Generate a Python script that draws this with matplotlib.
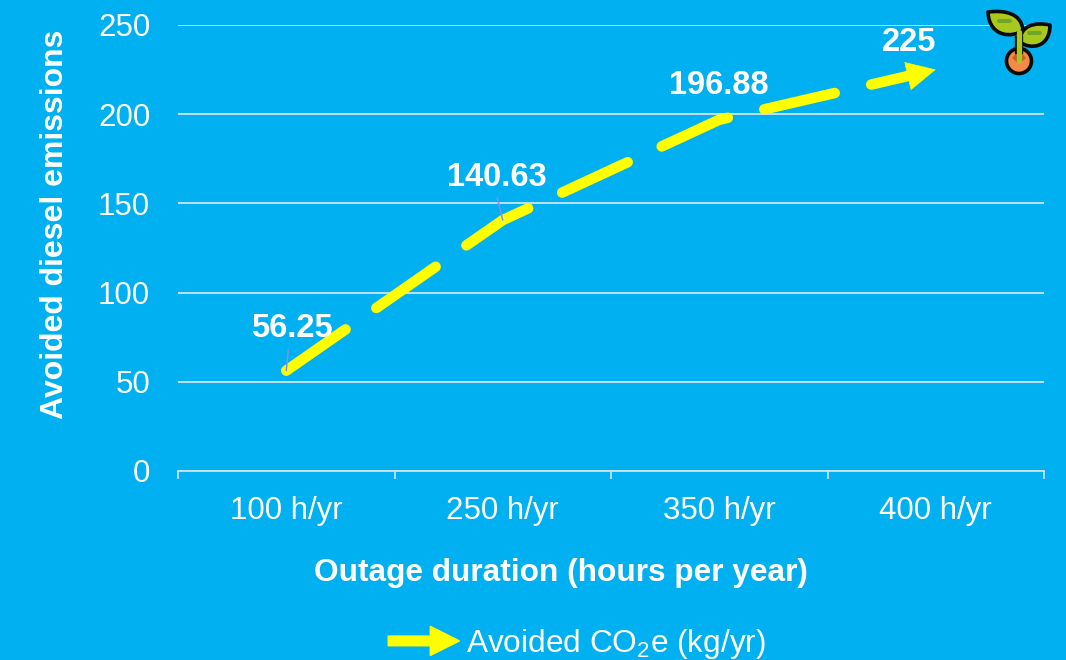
import matplotlib
matplotlib.use('Agg')
import matplotlib.pyplot as plt
from matplotlib.lines import Line2D
from matplotlib.patches import Circle, FancyArrow, PathPatch, Rectangle
from matplotlib.path import Path
from matplotlib.legend_handler import HandlerPatch

plt.rcParams['font.family'] = ['Liberation Sans', 'DejaVu Sans']
plt.rcParams['mathtext.fontset'] = 'custom'
plt.rcParams['mathtext.rm'] = 'Liberation Sans'

# Datos
categorias = ['100 h/yr', '250 h/yr', '350 h/yr', '400 h/yr']
valores = [56.25, 140.63, 196.88, 225]
etiquetas = ['56.25', '140.63', '196.88', '225']

W, H = 1066, 660
BG = '#00B0F0'
AMARILLO = '#FFFF00'
REJILLA = '#CFE3F7'

fig = plt.figure(figsize=(W / 100, H / 100), dpi=100, facecolor=BG)
ax = fig.add_axes([178 / W, 1 - 471 / H, 866 / W, 446 / H], facecolor=BG)
x = list(range(len(categorias)))

# Rejilla y ejes
ax.set_xlim(-0.5, 3.5)
ax.set_ylim(0, 250)
ax.set_yticks([0, 50, 100, 150, 200, 250])
ax.grid(axis='y', color=REJILLA, linewidth=1.3)
ax.set_axisbelow(True)
for lado in ['top', 'right', 'left']:
    ax.spines[lado].set_visible(False)
ax.spines['bottom'].set_color(REJILLA)
ax.spines['bottom'].set_linewidth(1.3)

ax.set_xticks([-0.5, 0.5, 1.5, 2.5, 3.5])
ax.set_xticklabels([])
ax.set_xticks(x, categorias, minor=True)
ax.tick_params(axis='x', which='major', length=6, width=1.2, color=REJILLA)
ax.tick_params(axis='x', which='minor', length=0, pad=18, labelsize=22.5, labelcolor='white')
ax.tick_params(axis='y', length=0, pad=20, labelsize=22.5, labelcolor='white')

# Linea discontinua con flecha
plt.rcParams['lines.scale_dashes'] = False
linea, = ax.plot(x, valores, color=AMARILLO, linewidth=7.6, solid_capstyle='round',
                 dash_capstyle='round', dash_joinstyle='round',
                 linestyle=(0, (52, 27)), zorder=3)
# la linea se corta antes de la punta para que no asome por la flecha
linea.set_clip_path(Rectangle((-0.5, 0), 3.45, 250, transform=ax.transData))
ax.annotate('', xy=(x[-1], valores[-1]),
            xytext=(x[-1] - 0.12, valores[-1] - 0.12 * (valores[-1] - valores[-2])),
            arrowprops=dict(arrowstyle='-|>,head_length=2,head_width=1', mutation_scale=10,
                            color=AMARILLO, lw=0.5, shrinkA=0, shrinkB=0),
            zorder=4)

# Etiquetas de datos
desplazamientos = [(4, 30), (-4, 30.5), (0, 25), (-19, 19.5)]
for xi, v, e, d in zip(x, valores, etiquetas, desplazamientos):
    ax.annotate(e, (xi, v), xytext=d, textcoords='offset points', ha='center', va='center',
                color='white', fontsize=23.5, fontweight='bold', zorder=5)

# Lineas guia de las dos primeras etiquetas
guias = [(1.5, 15), (-4, 16)]
for xi, v, d in zip(x, valores, guias):
    ax.annotate('', (xi, v), xytext=d, textcoords='offset points',
                arrowprops=dict(arrowstyle='-', color='#8090F0', lw=1.1, shrinkA=0, shrinkB=0),
                zorder=6)

ax.set_xlabel('Outage duration (hours per year)', color='white', fontsize=22.8,
              fontweight='bold', labelpad=23)
ax.xaxis.label.set_x((561 - 178) / 866)
fig.text(55 / W, 1 - 224 / H, 'Avoided diesel emissions', rotation=90, color='white',
         fontsize=23, fontweight='bold', ha='center', va='center')


# Leyenda con flecha
def flecha_leyenda(legend, orig_handle, xdescent, ydescent, width, height, fontsize):
    return FancyArrow(0, 0.5 * height, width, 0, length_includes_head=True, width=7,
                      head_width=21, head_length=21, color=AMARILLO)


proxy = FancyArrow(0, 0, 1, 0, color=AMARILLO)
fig.legend([proxy], ['Avoided CO$_2$e (kg/yr)'], loc='center', ncol=1,
           bbox_to_anchor=(577 / W, 1 - 644 / H), frameon=False,
           labelcolor='white', fontsize=22.8, handlelength=2.25, handletextpad=0.2,
           borderpad=0, handler_map={FancyArrow: HandlerPatch(patch_func=flecha_leyenda)})

# Icono de la planta, en pixeles de la imagen
icono = fig.add_axes([0, 0, 1, 1], facecolor='none')
icono.set_xlim(0, W)
icono.set_ylim(H, 0)
icono.axis('off')

VERDE = '#A8C81E'
OSCURO = '#6FA52A'
NEGRO = '#0A0A0A'
icono.add_patch(Circle((1019, 61), 12.5, fc='#F58A47', ec=NEGRO, lw=2.6, zorder=2))
icono.add_patch(PathPatch(Path([(1012, 58), (1019, 50), (1026, 58), (1019, 64), (1012, 58)],
                               [Path.MOVETO, Path.LINETO, Path.LINETO, Path.LINETO, Path.CLOSEPOLY]),
                          fc='#C8602C', ec='none', zorder=3))

codigos = [Path.MOVETO, Path.CURVE4, Path.CURVE4, Path.CURVE4, Path.CURVE4, Path.CURVE4, Path.CURVE4,
           Path.CLOSEPOLY]
hoja_izq = Path([(988, 12), (1005, 10), (1021, 13), (1023, 30), (1014, 38), (989, 38), (988, 12), (988, 12)], codigos)
hoja_der = Path([(1050, 25), (1035, 22), (1020, 25), (1020, 42), (1030, 50), (1050, 48), (1050, 25), (1050, 25)], codigos)
icono.add_patch(PathPatch(hoja_izq, fc=VERDE, ec=NEGRO, lw=2.6, joinstyle='round', zorder=4))
icono.add_patch(PathPatch(hoja_der, fc=VERDE, ec=NEGRO, lw=2.6, joinstyle='round', zorder=4))
icono.add_line(Line2D([1019, 1019], [40, 50], color=NEGRO, lw=6, zorder=5))
icono.add_line(Line2D([1019, 1019], [32, 61], color=VERDE, lw=3.8, solid_capstyle='round', zorder=6))
icono.add_line(Line2D([999, 1010], [21, 21], color=OSCURO, lw=2.8, solid_capstyle='round', zorder=6))
icono.add_line(Line2D([1029, 1040], [33, 33], color=OSCURO, lw=2.8, solid_capstyle='round', zorder=6))

fig.savefig('out.png', dpi=100, facecolor=BG)
